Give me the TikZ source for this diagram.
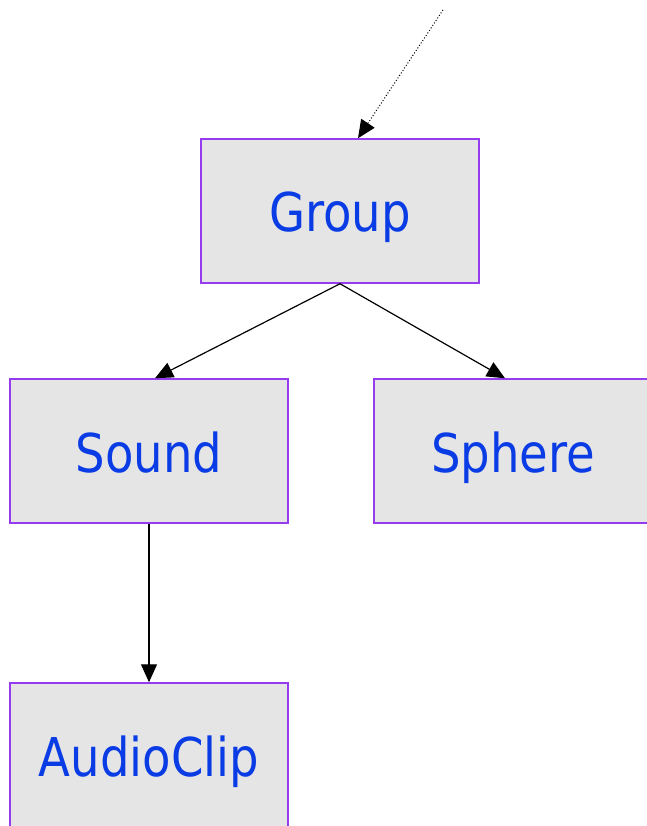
\documentclass[tikz,border=0pt]{standalone}
\usepackage{fontspec}
\setmainfont[FakeStretch=0.87]{DejaVu Sans}
\usetikzlibrary{arrows.meta}
\definecolor{boxfill}{RGB}{229,229,229}
\definecolor{boxline}{RGB}{150,60,240}
\definecolor{txtblue}{RGB}{10,60,230}
\tikzset{
  box/.style={draw=boxline, line width=1.5pt, fill=boxfill, minimum width=278pt, minimum height=144pt, inner sep=0pt, text height=42pt, text depth=0pt, text=txtblue, font=\fontsize{53.5}{60}\selectfont},
  link/.style={line width=1.2pt, -{Triangle[length=18pt,width=16pt]}},
  dlink/.style={line width=1pt, dotted, -{Triangle[length=18pt,width=16pt]}}
}
\begin{document}
\begin{tikzpicture}[x=1pt,y=-1pt]
\useasboundingbox (0,0) rectangle (646,826);
\node[box] (group) at (340,211) {Group};
\node[box] (sound) at (149,451) {Sound};
\node[box] (sphere) at (513,451) {Sphere};
\node[box] (audio) at (149,755) {AudioClip};
\coordinate (start) at (443,10);
\draw[dlink] (start) -- (group.north -| 358,0);
\draw[link] (group.south) -- (sound.north -| 155,0);
\draw[link] (group.south) -- (sphere.north -| 505,0);
\draw[link] (sound.south) -- (audio.north);
\end{tikzpicture}
\end{document}
